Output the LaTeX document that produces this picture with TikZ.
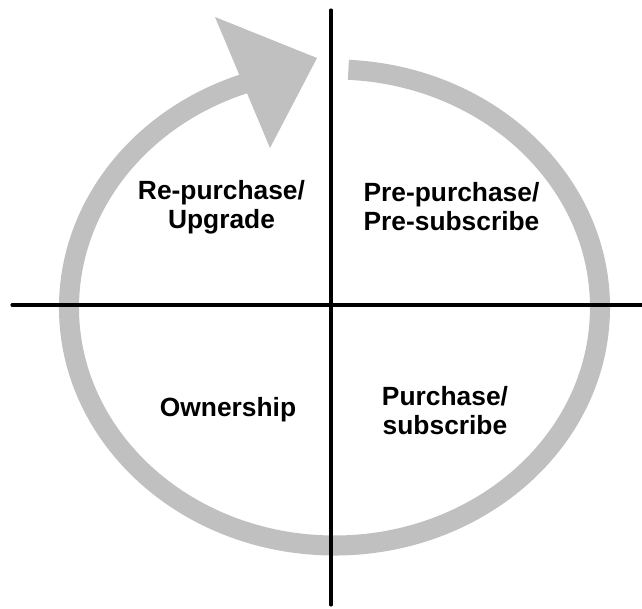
\documentclass[tikz,border=0pt]{standalone}
\usepackage{fontspec}
\setmainfont{Liberation Sans}
\usetikzlibrary{calc}

\begin{document}
\begin{tikzpicture}[
    phase/.style={font=\bfseries\fontsize{15}{16.5}\selectfont, align=center, inner sep=0pt},
    axis/.style={line width=1.8pt, black, line cap=round}
  ]
    % Parameters (cm)
    \def\rx{5.31}
    \def\ry{4.76}
    \def\ringW{11.4pt}

    % Colors
    \definecolor{ringCol}{HTML}{C0C0C0}

    \useasboundingbox (-6.62, -6.08) rectangle (6.22, 6.10);

    % 1. Cycle ring with arrow head
    \coordinate (C) at (0.07, -0.05);
    \draw[ringCol, line width=\ringW] ($(C) + (87:{\rx} and {\ry})$) arc[start angle=87, end angle=-252, x radius=\rx, y radius=\ry];
    \fill[ringCol] (-0.28, 4.94) -- (-2.32, 5.76) -- (-1.22, 3.14) -- cycle;

    % 2. Axes
    \coordinate (Ntop) at (0, 5.9);
    \coordinate (Nbot) at (0, -6.0);
    \coordinate (Wl) at (-6.38, 0);
    \coordinate (Er) at (6.3, 0);
    \draw[axis] (Ntop) -- (Nbot);
    \draw[axis] (Wl) -- (Er);

    % 3. Quadrant labels
    \node[phase] (repurchase) at (-2.19, 1.96) {Re-purchase/\\Upgrade};
    \node[phase] (prepurchase) at (2.41, 1.96) {Pre-purchase/\\Pre-subscribe};
    \node[phase] (ownership) at (-2.06, -2.1) {Ownership};
    \node[phase] (purchase) at (2.28, -2.11) {Purchase/\\subscribe};
\end{tikzpicture}
\end{document}
